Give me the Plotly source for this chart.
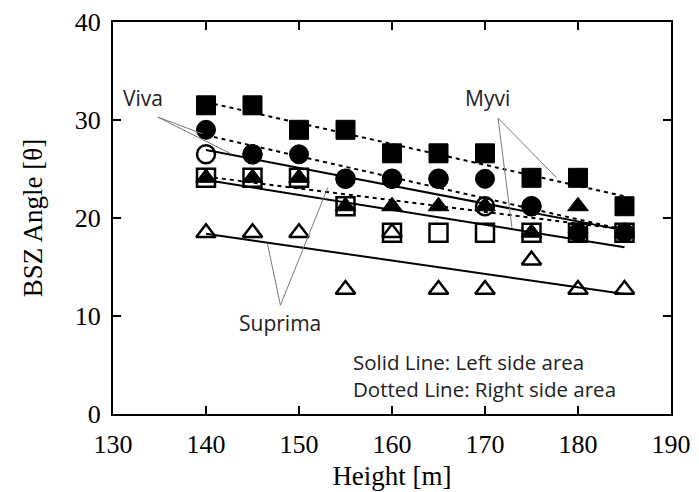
import numpy as np
import plotly.graph_objects as go

# ---- data ----
heights = [140, 145, 150, 155, 160, 165, 170, 175, 180, 185]

myvi_right = [31.5, 31.5, 29.0, 29.0, 26.6, 26.6, 26.6, 24.1, 24.1, 21.2]
viva_right = [29.0, 26.5, 26.5, 24.0, 24.0, 24.0, 24.0, 21.2, 18.5, 18.5]
suprima_right = [24.1, 24.1, 24.1, 21.2, 21.2, 21.2, 21.2, 18.5, 21.2, 18.5]

myvi_left = [24.1, 24.1, 24.1, 21.2, 18.5, 18.5, 18.5, 18.5, 18.5, 18.5]
viva_left = [26.5, 26.5, 24.0, 24.0, 24.0, 24.0, 21.2, 21.2, 18.5, 18.5]
suprima_left = [18.5, 18.5, 18.5, 12.7, 18.5, 12.7, 12.7, 15.7, 12.7, 12.7]

x_ticks = [130, 140, 150, 160, 170, 180, 190]
y_ticks = [0, 10, 20, 30, 40]

# callout labels: (text, label x, label y, line origin, [line ends])
callouts = [
    ("Viva", 133.2, 32.2, (134.8, 30.3), [(139.6, 28.6), (142.8, 26.5)]),
    ("Myvi", 170.3, 32.2, (171.4, 30.2), [(177.7, 24.1), (172.9, 19.0)]),
    ("Suprima", 148.0, 9.3, (148.0, 11.1), [(146.6, 17.4), (153.1, 23.1)]),
]
note_text = "Solid Line: Left side area<br>Dotted Line: Right side area"
note_x = 155.6
note_y = 3.98

fig = go.Figure()

BLACK = "black"
open_line = dict(color=BLACK, width=2.5)

# open markers (left side)
fig.add_trace(go.Scatter(x=heights, y=viva_left, mode="markers", name="Viva left",
                         marker=dict(symbol="circle", size=18, color="white", line=open_line)))
fig.add_trace(go.Scatter(x=heights, y=myvi_left, mode="markers", name="Myvi left",
                         marker=dict(symbol="square", size=18, color="white", line=open_line)))
fig.add_trace(go.Scatter(x=heights, y=suprima_left, mode="markers", name="Suprima left",
                         marker=dict(symbol="triangle-up", size=17, color="white", line=open_line)))
# filled markers (right side)
fig.add_trace(go.Scatter(x=heights, y=viva_right, mode="markers", name="Viva right",
                         marker=dict(symbol="circle", size=19, color=BLACK, line=dict(color=BLACK, width=1))))
fig.add_trace(go.Scatter(x=heights, y=suprima_right, mode="markers", name="Suprima right",
                         marker=dict(symbol="triangle-up", size=18, color=BLACK, line=dict(color=BLACK, width=1))))
fig.add_trace(go.Scatter(x=heights, y=myvi_right, mode="markers", name="Myvi right",
                         marker=dict(symbol="square", size=19, color=BLACK, line=dict(color=BLACK, width=1))))

# linear trend lines
xs = np.array(heights, dtype=float)
xfit = np.array([xs.min(), xs.max()])
for ys, dash in [(myvi_left, "solid"), (viva_left, "solid"), (suprima_left, "solid"),
                 (myvi_right, "4px,4px"), (viva_right, "4px,4px"), (suprima_right, "4px,4px")]:
    k, b = np.polyfit(xs, np.array(ys, dtype=float), 1)
    fig.add_trace(go.Scatter(x=xfit, y=k * xfit + b, mode="lines",
                             line=dict(color=BLACK, width=2, dash=dash), hoverinfo="skip"))

# callout lines and labels
for text, lx, ly, (ox, oy), ends in callouts:
    for ex, ey in ends:
        fig.add_shape(type="line", x0=ox, y0=oy, x1=ex, y1=ey, xref="x", yref="y",
                      line=dict(color="#7a7a7a", width=1))
    fig.add_annotation(x=lx, y=ly, text=text, showarrow=False, xref="x", yref="y",
                       font=dict(family="Open Sans", size=21, color="#222"))

fig.add_annotation(x=note_x, y=note_y, text=note_text, showarrow=False, xref="x", yref="y",
                   xanchor="left", yanchor="middle", align="left",
                   font=dict(family="Open Sans", size=20.5, color="#222"))

axis_common = dict(showline=True, linecolor=BLACK, linewidth=2, mirror="ticks",
                   ticks="inside", ticklen=8, tickwidth=1.5, tickcolor=BLACK,
                   showgrid=False, zeroline=False, automargin=False,
                   tickfont=dict(family="Liberation Serif", size=26, color=BLACK))

fig.update_xaxes(range=[130, 190], tickvals=x_ticks, ticktext=[str(v) for v in x_ticks],
                 ticklabelstandoff=6,
                 title=dict(text="Height [m]", font=dict(family="Liberation Serif", size=27, color=BLACK),
                            standoff=8),
                 **axis_common)
fig.update_yaxes(range=[0, 40], tickvals=y_ticks, ticktext=[str(v) for v in y_ticks],
                 ticklabelstandoff=5,
                 title=dict(text="BSZ Angle [θ]", font=dict(family="Liberation Serif", size=27, color=BLACK),
                            standoff=24),
                 **axis_common)

fig.update_layout(width=699, height=492, showlegend=False,
                  margin=dict(l=113, r=28, t=22, b=78),
                  plot_bgcolor="white", paper_bgcolor="white")

fig.write_html("out.html")
